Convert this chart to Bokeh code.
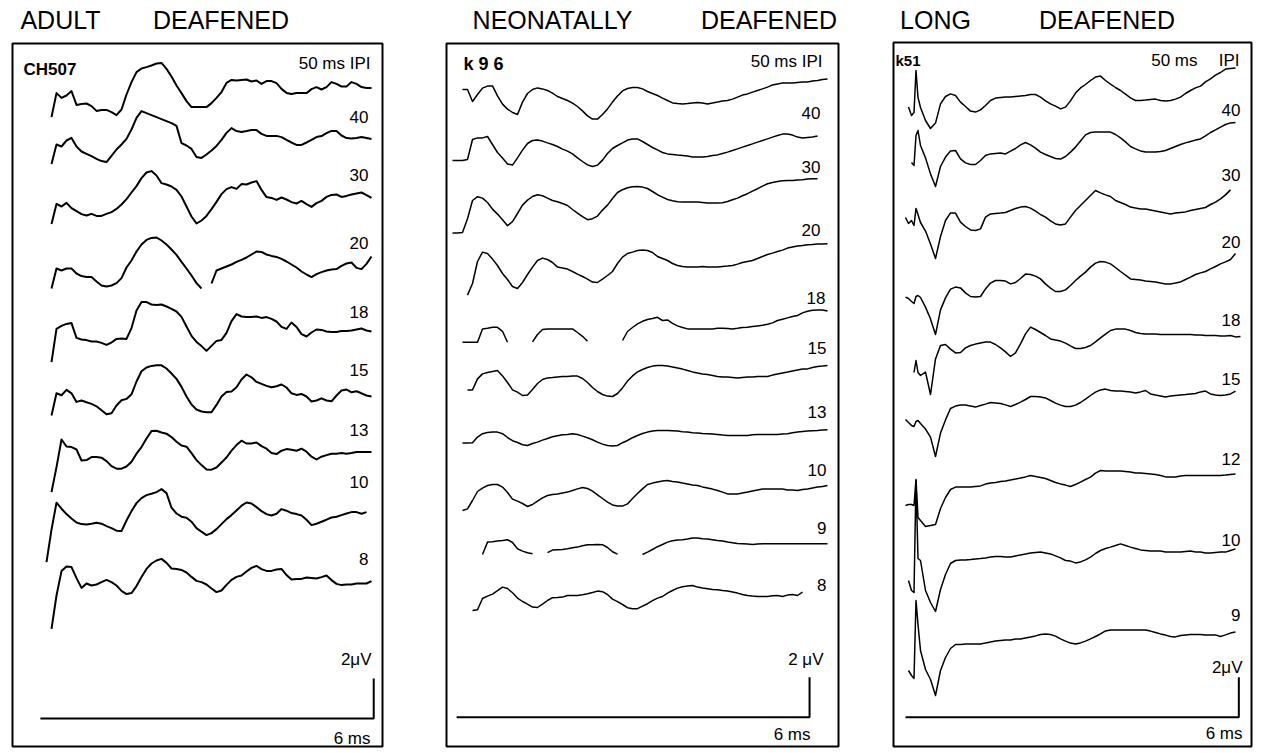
import numpy as np
from bokeh.plotting import figure
from bokeh.layouts import row
from bokeh.models import Range1d, Label
from bokeh.embed import file_html
from bokeh.resources import INLINE

nan = float("nan")

# ================= DATA (amplitudes in microvolts) =================
# ---- Adult deafened, CH507 (sampled every 0.09 ms) ----
A_ipi = ["50 ms IPI", "40", "30", "20", "18", "15", "13", "10", "8"]
A_50 = [nan, -1.33, -0.13, -0.37, -0.25, -0.03, -0.72, -0.67, -0.65, -0.78, -1.02, -0.97, -0.97, -1.08, -1.23, -0.95, -0.20, 0.42, 0.92, 1.10, 1.17, 1.25, 1.35, 1.38, 1.08, 0.70, 0.25, -0.13, -0.53, -0.83, -0.83, -0.83, -0.83, -0.63, -0.37, -0.08, 0.38, 0.53, 0.50, 0.53, 0.55, 0.45, 0.50, 0.33, 0.47, 0.47, 0.37, 0.08, -0.12, -0.17, -0.13, -0.13, -0.13, 0.07, 0.17, 0.05, 0.17, 0.42, 0.33, 0.20, 0.20, 0.42, 0.33, 0.17, 0.13, 0.13]
A_40 = [nan, -1.17, -0.20, -0.30, 0.00, 0.13, -0.30, -0.55, -0.67, -0.78, -0.92, -1.03, -1.08, -0.77, -0.45, -0.20, 0.08, 0.55, 1.13, 1.47, 1.37, 1.27, 1.17, 1.07, 0.97, 0.87, 0.73, -0.13, -0.25, -0.42, -0.83, -0.87, -0.70, -0.50, -0.27, 0.03, 0.38, 0.62, 0.47, 0.43, 0.47, 0.52, 0.52, 0.33, 0.23, 0.22, 0.23, 0.17, 0.03, -0.10, -0.22, -0.22, -0.10, 0.03, 0.17, 0.22, 0.37, 0.48, 0.47, 0.25, 0.12, 0.10, 0.13, 0.17, 0.12, 0.07]
A_30 = [nan, -1.17, -0.17, -0.30, -0.12, -0.38, -0.53, -0.68, -0.75, -0.67, -0.77, -0.77, -0.67, -0.58, -0.42, -0.20, 0.07, 0.40, 0.72, 1.12, 1.40, 1.47, 1.25, 0.87, 0.80, 0.70, 0.53, 0.20, -0.30, -0.80, -1.15, -1.00, -0.77, -0.43, -0.07, 0.32, 0.57, 0.67, 0.58, 0.82, 0.80, 0.90, 0.97, 0.53, 0.17, 0.13, 0.03, 0.15, 0.05, -0.08, -0.15, -0.02, -0.18, -0.32, -0.13, -0.02, 0.18, 0.28, 0.30, 0.18, 0.23, 0.30, 0.35, 0.40, 0.27, 0.13]
A_20 = [nan, -1.00, 0.00, -0.10, 0.00, 0.00, -0.25, -0.38, -0.43, -0.43, -0.65, -0.85, -0.90, -0.85, -0.73, -0.48, 0.05, 0.40, 0.85, 1.20, 1.43, 1.53, 1.55, 1.40, 1.20, 0.95, 0.68, 0.33, 0.00, -0.35, -0.73, -1.00, nan, -0.75, -0.10, 0.00, 0.10, 0.20, 0.33, 0.43, 0.55, 0.70, 0.85, 0.83, 0.70, 0.63, 0.58, 0.48, 0.35, 0.20, 0.05, -0.15, -0.30, -0.43, -0.28, -0.18, -0.10, -0.05, -0.03, 0.13, 0.25, 0.30, 0.03, -0.03, 0.23, 0.60]
A_18 = [nan, -1.58, 0.08, 0.23, 0.33, 0.37, -0.37, -0.45, -0.48, -0.55, -0.55, -0.62, -0.72, -0.60, -0.42, -0.40, -0.42, 0.12, 1.00, 1.43, 1.42, 1.30, 1.27, 1.30, 1.20, 1.08, 0.95, 0.68, 0.20, -0.27, -0.57, -0.78, -1.02, -0.77, -0.52, -0.47, -0.12, 0.47, 0.82, 0.70, 0.67, 0.68, 0.70, 0.63, 0.67, 0.58, 0.45, 0.18, 0.08, 0.40, 0.18, -0.18, -0.30, -0.10, 0.05, 0.03, -0.05, -0.08, -0.07, -0.03, -0.02, 0.00, 0.05, 0.10, 0.00, -0.05]
A_15 = [nan, -1.08, 0.03, -0.07, 0.20, 0.03, -0.40, -0.33, -0.42, -0.50, -0.62, -0.82, -1.02, -0.97, -0.58, -0.32, -0.25, -0.02, 0.62, 1.13, 1.32, 1.40, 1.43, 1.43, 1.27, 1.02, 0.75, 0.35, -0.13, -0.53, -0.78, -0.88, -0.92, -0.92, -0.55, -0.13, 0.10, 0.12, 0.33, 0.72, 0.97, 0.83, 0.60, 0.50, 0.40, 0.33, 0.38, 0.47, 0.32, 0.03, -0.05, 0.00, -0.13, -0.38, -0.33, -0.22, -0.33, -0.37, -0.08, 0.17, 0.22, 0.08, 0.13, 0.03, -0.08, -0.13]
A_13 = [nan, -2.00, -0.75, 0.63, 0.28, 0.25, 0.13, -0.42, -0.40, -0.25, -0.25, -0.28, -0.45, -0.70, -0.83, -0.83, -0.72, -0.48, -0.08, 0.25, 0.68, 1.05, 1.07, 0.98, 0.92, 0.75, 0.52, 0.33, 0.27, -0.05, -0.40, -0.65, -0.87, -0.88, -0.77, -0.52, -0.27, 0.07, 0.35, 0.57, 0.43, 0.43, 0.48, 0.30, 0.17, -0.05, -0.10, 0.07, 0.15, 0.12, 0.07, 0.17, 0.02, -0.23, -0.37, -0.23, -0.15, -0.08, -0.08, -0.05, -0.08, -0.05, 0.00, 0.00, 0.00, 0.00]
A_10 = [-2.25, -0.63, 0.72, 0.42, 0.15, -0.07, -0.27, -0.35, -0.37, -0.33, -0.28, -0.33, -0.45, -0.55, -0.68, -0.70, -0.17, 0.30, 0.70, 0.95, 1.10, 1.17, 1.25, 1.40, 1.20, 0.47, 0.18, 0.02, -0.03, -0.23, -0.55, -0.73, -0.90, -0.80, -0.60, -0.35, -0.10, 0.10, 0.33, 0.57, 0.73, 0.68, 0.50, 0.30, 0.15, 0.08, 0.17, 0.40, 0.32, 0.20, 0.15, 0.08, -0.13, -0.40, -0.33, -0.23, -0.13, -0.02, 0.02, 0.10, 0.18, 0.25, 0.25, 0.17, 0.25, nan]
A_8 = [nan, -2.42, -0.75, 0.47, 0.70, 0.67, 0.12, -0.37, -0.15, -0.25, -0.20, -0.08, 0.03, -0.08, -0.25, -0.52, -0.68, -0.63, -0.28, 0.17, 0.58, 0.85, 1.00, 1.08, 0.88, 0.60, 0.58, 0.53, 0.40, 0.18, -0.02, -0.08, -0.20, -0.40, -0.58, -0.50, -0.22, 0.03, 0.18, 0.25, 0.45, 0.63, 0.73, 0.57, 0.48, 0.48, 0.55, 0.58, 0.27, 0.05, 0.08, 0.08, 0.15, 0.13, 0.10, 0.17, 0.25, 0.02, -0.17, -0.23, -0.20, -0.20, -0.15, -0.15, -0.15, -0.03]

# ---- Neonatally deafened, k96 (sampled every 0.085 ms) ----
B_ipi = ["50 ms IPI", "40", "30", "20", "18", "15", "13", "10", "9", "8"]
B_50 = [nan, nan, 0.30, 0.30, -0.30, 0.05, 0.37, 0.47, 0.48, -0.02, -0.43, -0.68, -0.85, -0.95, -0.33, 0.10, 0.30, 0.38, 0.33, 0.25, 0.12, -0.05, -0.15, -0.25, -0.38, -0.55, -0.77, -1.02, -1.18, -1.18, -0.95, -0.67, -0.33, -0.03, 0.23, 0.35, 0.40, 0.40, 0.33, 0.20, 0.10, 0.00, -0.13, -0.25, -0.37, -0.40, -0.42, -0.40, -0.37, -0.35, -0.38, -0.42, -0.37, -0.33, -0.28, -0.25, -0.18, -0.08, 0.02, 0.08, 0.17, 0.25, 0.33, 0.42, 0.53, 0.58, 0.62, 0.62, 0.62, 0.65, 0.67, 0.67, 0.72, 0.75, 0.80, 0.83]
B_40 = [-0.50, -0.50, -0.50, -0.45, 0.55, 0.63, 0.63, 0.70, 0.30, -0.10, -0.38, -0.67, -0.73, -0.37, 0.02, 0.35, 0.50, 0.53, 0.47, 0.38, 0.30, 0.20, 0.07, -0.03, -0.17, -0.37, -0.55, -0.72, -0.80, -0.73, -0.48, -0.15, 0.10, 0.25, 0.38, 0.52, 0.58, 0.58, 0.45, 0.30, 0.15, 0.03, -0.10, -0.17, -0.20, -0.23, -0.25, -0.28, -0.32, -0.33, -0.32, -0.30, -0.25, -0.22, -0.15, -0.08, 0.00, 0.08, 0.17, 0.25, 0.33, 0.42, 0.50, 0.58, 0.67, 0.75, 0.82, 0.82, 0.77, 0.67, 0.63, 0.65, 0.67, 0.73, nan, nan]
B_30 = [-1.30, -1.30, -1.27, -0.58, 0.33, 0.52, 0.45, 0.23, -0.10, -0.35, -0.63, -0.93, -0.73, -0.32, 0.10, 0.35, 0.53, 0.62, 0.57, 0.45, 0.33, 0.27, 0.18, 0.08, -0.12, -0.30, -0.48, -0.63, -0.58, -0.45, -0.15, 0.10, 0.43, 0.73, 0.87, 0.97, 1.02, 1.03, 1.00, 0.93, 0.78, 0.62, 0.50, 0.38, 0.32, 0.27, 0.25, 0.25, 0.25, 0.25, 0.23, 0.20, 0.20, 0.20, 0.22, 0.28, 0.37, 0.45, 0.57, 0.67, 0.80, 0.92, 1.05, 1.17, 1.23, 1.28, 1.32, 1.33, 1.33, 1.35, 1.37, 1.40, 1.42, 1.42, nan, nan]
B_20 = [nan, nan, nan, -1.40, -0.82, 0.28, 0.75, 0.68, 0.40, 0.08, -0.32, -0.62, -0.97, -1.07, -0.77, -0.37, 0.00, 0.33, 0.45, 0.38, 0.23, 0.00, -0.05, -0.10, -0.22, -0.35, -0.47, -0.60, -0.75, -0.77, -0.60, -0.42, -0.22, 0.18, 0.50, 0.68, 0.75, 0.83, 0.85, 0.83, 0.73, 0.53, 0.43, 0.33, 0.18, 0.08, 0.03, 0.00, 0.00, 0.00, 0.03, 0.00, 0.00, 0.00, 0.03, 0.05, 0.08, 0.15, 0.23, 0.28, 0.33, 0.43, 0.53, 0.63, 0.70, 0.78, 0.85, 0.95, 1.00, 1.05, 1.08, 1.12, 1.13, 1.15, 1.15, 1.17]
B_18 = [nan, nan, -0.67, -0.67, -0.67, -0.67, 0.00, 0.03, 0.08, 0.08, -0.12, -0.67, nan, nan, nan, nan, -0.65, -0.28, -0.03, 0.00, 0.00, 0.00, 0.00, 0.00, 0.00, -0.18, -0.37, -0.62, nan, nan, nan, nan, nan, nan, -0.58, -0.13, 0.07, 0.25, 0.38, 0.47, 0.52, 0.58, 0.42, 0.45, 0.28, 0.15, 0.07, 0.00, 0.00, 0.00, 0.00, 0.00, 0.00, 0.03, 0.03, 0.02, 0.00, 0.03, 0.07, 0.08, 0.12, 0.15, 0.18, 0.23, 0.30, 0.42, 0.48, 0.55, 0.62, 0.67, 0.80, 0.88, 0.93, 0.95, 0.95, 0.90]
B_15 = [nan, nan, nan, -0.47, -0.47, 0.08, 0.33, 0.40, 0.45, 0.50, 0.23, -0.10, -0.47, -0.58, -0.75, -0.72, -0.45, -0.15, 0.05, 0.13, 0.15, 0.18, 0.20, 0.20, 0.22, 0.22, 0.10, -0.10, -0.35, -0.55, -0.70, -0.78, -0.80, -0.65, -0.37, -0.03, 0.23, 0.43, 0.55, 0.65, 0.72, 0.75, 0.75, 0.72, 0.68, 0.63, 0.57, 0.50, 0.43, 0.37, 0.33, 0.30, 0.25, 0.20, 0.18, 0.17, 0.15, 0.13, 0.15, 0.17, 0.18, 0.20, 0.20, 0.20, 0.27, 0.33, 0.38, 0.42, 0.48, 0.53, 0.57, 0.58, 0.65, 0.70, 0.72, 0.75]
B_13 = [nan, nan, -0.30, -0.30, -0.28, 0.00, 0.17, 0.23, 0.25, 0.25, 0.17, -0.02, -0.18, -0.27, -0.38, -0.42, -0.32, -0.25, -0.15, -0.07, 0.02, 0.07, 0.12, 0.13, 0.17, 0.13, 0.05, -0.03, -0.13, -0.25, -0.35, -0.42, -0.45, -0.42, -0.28, -0.17, -0.03, 0.08, 0.18, 0.25, 0.30, 0.33, 0.33, 0.33, 0.32, 0.30, 0.27, 0.25, 0.22, 0.20, 0.18, 0.17, 0.15, 0.13, 0.10, 0.08, 0.08, 0.08, 0.08, 0.08, 0.12, 0.13, 0.13, 0.13, 0.13, 0.13, 0.15, 0.17, 0.22, 0.25, 0.28, 0.30, 0.32, 0.33, 0.35, 0.37]
B_10 = [nan, nan, -0.75, -0.67, -0.25, 0.20, 0.37, 0.50, 0.55, 0.55, 0.42, 0.15, -0.18, -0.28, -0.40, -0.55, -0.45, -0.28, -0.12, 0.00, 0.05, 0.08, 0.13, 0.17, 0.25, 0.33, 0.40, 0.35, 0.22, 0.03, -0.15, -0.33, -0.47, -0.53, -0.53, -0.42, -0.15, 0.10, 0.33, 0.55, 0.62, 0.67, 0.72, 0.75, 0.70, 0.67, 0.62, 0.58, 0.53, 0.50, 0.43, 0.38, 0.32, 0.25, 0.17, 0.08, 0.08, 0.08, 0.13, 0.17, 0.23, 0.28, 0.32, 0.33, 0.33, 0.33, 0.32, 0.28, 0.27, 0.25, 0.30, 0.33, 0.38, 0.42, 0.45, 0.50]
B_9 = [nan, nan, nan, nan, nan, nan, -0.37, 0.25, 0.27, 0.30, 0.33, 0.37, 0.23, -0.08, -0.20, -0.28, -0.33, nan, nan, -0.28, -0.15, -0.13, -0.12, -0.08, -0.03, 0.00, 0.07, 0.12, 0.12, 0.13, 0.12, -0.02, -0.23, -0.35, nan, nan, nan, nan, -0.37, -0.25, -0.12, 0.02, 0.13, 0.25, 0.32, 0.35, 0.37, 0.40, 0.45, 0.45, 0.42, 0.40, 0.37, 0.33, 0.30, 0.25, 0.22, 0.18, 0.17, 0.15, 0.13, 0.15, 0.17, 0.17, 0.17, 0.17, 0.17, 0.17, 0.17, 0.17, 0.17, 0.17, 0.17, 0.17, 0.17, 0.17]
B_8 = [nan, nan, nan, nan, -0.67, -0.63, -0.07, 0.05, 0.15, 0.32, 0.50, 0.43, 0.22, -0.05, -0.22, -0.35, -0.50, -0.52, -0.35, -0.17, -0.03, -0.02, 0.00, 0.08, 0.08, 0.08, 0.12, 0.17, 0.23, 0.30, 0.27, 0.13, -0.10, -0.23, -0.37, -0.53, -0.58, -0.58, -0.45, -0.33, -0.18, -0.05, 0.03, 0.20, 0.33, 0.45, 0.52, 0.55, 0.58, 0.50, 0.45, 0.42, 0.38, 0.37, 0.33, 0.30, 0.25, 0.20, 0.13, 0.08, 0.05, 0.03, 0.03, 0.03, 0.07, 0.08, 0.03, 0.10, 0.13, 0.08, 0.25, nan, nan, nan, nan, nan]

# ---- Long deafened, k51 (first 7 samples at the times in C_t_early, then every 0.09 ms) ----
C_ipi = ["50 ms", "40", "30", "20", "18", "15", "12", "10", "9"]
C_t_early = [0.0, 0.054, 0.108, 0.153, 0.189, 0.225, 0.27]
C_50 = [nan, -0.33, -0.75, -0.60, 1.50, 0.15, -0.35, -1.00, -1.40, -1.13, -0.17, 0.20, 0.33, 0.25, -0.08, -0.30, -0.53, -0.58, -0.47, -0.25, 0.00, 0.12, 0.15, 0.17, 0.17, 0.20, 0.23, 0.25, 0.30, 0.30, 0.17, -0.02, -0.17, -0.28, -0.42, -0.33, -0.02, 0.37, 0.63, 0.80, 1.00, 1.17, 1.22, 1.00, 0.82, 0.65, 0.50, 0.32, 0.13, 0.00, 0.00, 0.02, 0.05, 0.07, 0.00, -0.03, 0.00, 0.07, 0.17, 0.35, 0.50, 0.63, 0.72, 0.93, 1.08, 1.27, 1.40, 1.57, 1.60, 1.63, nan]
C_40 = [nan, nan, -0.60, -0.75, 0.75, 1.00, 0.25, -0.37, -1.17, -1.80, -0.80, -0.33, -0.03, 0.00, -0.42, -0.62, -0.70, -0.70, -0.50, -0.25, -0.17, -0.15, -0.13, -0.17, -0.03, 0.10, 0.28, 0.40, 0.28, 0.12, -0.08, -0.20, -0.30, -0.40, -0.43, -0.30, -0.08, 0.17, 0.47, 0.78, 0.90, 0.92, 0.92, 0.92, 0.92, 0.80, 0.63, 0.43, 0.20, 0.08, -0.02, -0.07, -0.08, -0.08, -0.05, 0.00, 0.10, 0.20, 0.30, 0.38, 0.45, 0.52, 0.58, 0.73, 0.90, 1.03, 1.17, 1.30, 1.38, 1.40, nan]
C_30 = [-0.10, -0.40, -0.25, -0.50, 0.35, 0.05, -0.35, -0.78, -1.42, -2.15, -1.05, -0.25, 0.13, 0.12, -0.33, -0.55, -0.72, -0.75, -0.67, -0.08, 0.08, 0.10, 0.12, 0.15, 0.25, 0.35, 0.42, 0.45, 0.37, 0.22, 0.05, -0.08, -0.27, -0.42, -0.48, -0.42, -0.08, 0.25, 0.50, 0.75, 1.00, 1.25, 1.13, 1.03, 0.95, 0.75, 0.65, 0.55, 0.42, 0.37, 0.33, 0.33, 0.28, 0.23, 0.18, 0.12, 0.08, 0.12, 0.15, 0.18, 0.25, 0.30, 0.35, 0.40, 0.55, 0.67, 0.83, 1.03, 1.28, nan, nan]
C_20 = [-0.83, -0.90, -1.05, -1.15, -0.80, -0.75, -0.85, -1.33, -1.92, -2.70, -1.47, -0.87, -0.43, -0.33, -0.37, -0.62, -0.80, -0.83, -0.80, -0.42, -0.13, 0.00, 0.00, -0.03, -0.17, -0.10, 0.10, 0.32, 0.30, 0.22, 0.08, -0.17, -0.38, -0.55, -0.55, -0.47, -0.25, 0.00, 0.22, 0.42, 0.67, 0.87, 0.95, 0.92, 0.83, 0.65, 0.45, 0.27, 0.08, 0.05, 0.02, -0.02, -0.05, -0.08, -0.13, -0.17, -0.17, -0.13, -0.07, 0.05, 0.17, 0.30, 0.38, 0.45, 0.58, 0.70, 0.83, 0.93, 1.05, 1.35, nan]
C_18 = [nan, nan, nan, -1.60, -1.00, -1.60, -1.75, -1.58, -2.70, -0.92, -0.25, -0.20, -0.43, -0.62, -0.60, -0.37, -0.25, -0.18, -0.12, -0.08, -0.08, -0.20, -0.37, -0.57, -0.80, -0.62, -0.17, 0.33, 0.67, 0.55, 0.40, 0.25, 0.08, 0.02, -0.03, -0.13, -0.27, -0.40, -0.40, -0.35, -0.25, -0.07, 0.13, 0.32, 0.50, 0.57, 0.58, 0.57, 0.50, 0.40, 0.35, 0.33, 0.33, 0.32, 0.30, 0.30, 0.30, 0.30, 0.30, 0.30, 0.30, 0.28, 0.27, 0.25, 0.25, 0.25, 0.22, 0.22, 0.25, 0.18, 0.20]
C_15 = [-0.95, -1.10, -1.25, -1.30, -1.05, -1.00, -1.15, -1.43, -1.83, -2.80, -1.63, -0.97, -0.40, -0.28, -0.22, -0.22, -0.27, -0.33, -0.25, -0.18, -0.10, -0.12, -0.15, -0.22, -0.30, -0.20, -0.08, 0.05, 0.20, 0.20, 0.18, 0.13, 0.00, -0.13, -0.23, -0.30, -0.30, -0.23, -0.10, 0.07, 0.25, 0.42, 0.53, 0.57, 0.50, 0.48, 0.47, 0.45, 0.42, 0.38, 0.43, 0.50, 0.33, 0.27, 0.22, 0.17, 0.22, 0.25, 0.28, 0.30, 0.33, 0.35, 0.43, 0.47, 0.33, 0.27, 0.25, 0.27, 0.33, 0.47, nan]
C_12 = [-1.25, -1.20, -1.20, -1.25, 0.05, -1.85, -2.00, -2.30, -2.25, -2.20, -1.40, -0.85, -0.45, -0.33, -0.33, -0.33, -0.33, -0.30, -0.27, -0.18, -0.13, -0.10, -0.05, -0.02, 0.03, 0.07, 0.12, 0.18, 0.25, 0.20, 0.15, 0.10, 0.00, -0.10, -0.17, -0.23, -0.30, -0.20, -0.08, 0.05, 0.17, 0.37, 0.50, 0.48, 0.47, 0.47, 0.47, 0.45, 0.42, 0.38, 0.37, 0.35, 0.33, 0.30, 0.25, 0.18, 0.17, 0.17, 0.22, 0.25, 0.25, 0.25, 0.25, 0.25, 0.25, 0.25, 0.25, 0.27, 0.30, 0.33, nan]
C_10 = [nan, -1.25, -1.75, -1.85, 3.75, -0.15, -0.25, -1.75, -2.35, -2.80, -1.70, -0.95, -0.40, -0.25, -0.22, -0.22, -0.20, -0.17, -0.15, -0.12, -0.08, -0.05, -0.05, -0.07, -0.08, -0.02, 0.03, 0.07, 0.12, 0.15, 0.17, 0.13, 0.08, -0.02, -0.12, -0.25, -0.28, -0.37, -0.32, -0.22, -0.08, 0.10, 0.25, 0.35, 0.42, 0.50, 0.58, 0.50, 0.42, 0.35, 0.28, 0.25, 0.22, 0.22, 0.22, 0.18, 0.17, 0.17, 0.17, 0.20, 0.22, 0.18, 0.17, 0.13, 0.12, 0.15, 0.17, 0.17, 0.25, 0.33, nan]
C_9 = [nan, -1.75, -2.00, -2.15, 1.75, 0.55, -0.75, -1.70, -2.20, -3.00, -1.75, -1.10, -0.65, -0.45, -0.45, -0.43, -0.42, -0.42, -0.42, -0.38, -0.33, -0.28, -0.25, -0.23, -0.22, -0.18, -0.17, -0.12, -0.08, -0.02, 0.05, 0.08, 0.05, -0.03, -0.17, -0.28, -0.38, -0.42, -0.37, -0.28, -0.17, -0.05, 0.08, 0.23, 0.28, 0.28, 0.28, 0.28, 0.28, 0.28, 0.28, 0.27, 0.22, 0.15, 0.08, 0.02, -0.05, -0.07, 0.00, 0.03, 0.05, 0.05, 0.05, 0.02, 0.02, 0.03, -0.05, 0.03, 0.12, 0.18, nan]

# ================= LAYOUT / STYLE =================
FONT = "Liberation Sans"
H = 750          # figure height (page px)
UV_PX = 20.0     # pixels per microvolt
SAMPLE_PX = 5.0  # pixels per regular sample step


def sample_times(n, dt, early=None):
    if not early:
        return np.arange(n) * dt
    k = len(early)
    first_regular = round(early[-1] / dt) + 1
    return np.concatenate([np.array(early), dt * np.arange(first_regular, first_regular + n - k)])


def build_panel(left, width, x0, dt, y0, traces, offsets, line_w, frame, bar_t0, bar_y,
                labels, label_pos, label_size, extra_texts, early=None):
    ms_px = SAMPLE_PX / dt
    X = lambda px: (px - x0) / ms_px
    Y = lambda py: (y0 - py) / UV_PX
    p = figure(width=width, height=H,
               x_range=Range1d(X(left), X(left + width)),
               y_range=Range1d(Y(H), Y(0)),
               output_backend="svg", toolbar_location=None, min_border=0,
               x_axis_location=None, y_axis_location=None)
    p.grid.visible = False
    p.outline_line_color = None
    p.background_fill_color = "white"
    p.border_fill_color = "white"
    fl, ft, fr, fb = frame
    p.quad(left=[X(fl)], right=[X(fr)], top=[Y(ft)], bottom=[Y(fb)],
           fill_color=None, line_color="black", line_width=2)
    for vals, off in zip(traces, offsets):
        v = np.array(vals, dtype=float)
        t = sample_times(len(v), dt, early)
        p.line(t, v + off, line_color="black", line_width=line_w, line_join="round")
    yb = Y(bar_y)
    p.line([bar_t0, bar_t0 + 6, bar_t0 + 6], [yb, yb, yb + 2], line_color="black", line_width=2)
    for txt, (lx, ly) in zip(labels, label_pos):
        p.add_layout(Label(x=X(lx), y=Y(ly), text=txt, text_align="right", text_baseline="middle",
                           text_font=FONT, text_font_size=label_size, text_color="black"))
    for txt, lx, ly, align, size, style in extra_texts:
        p.add_layout(Label(x=X(lx), y=Y(ly), text=txt, text_align=align, text_baseline="middle",
                           text_font=FONT, text_font_size=size, text_font_style=style, text_color="black"))
    return p


pA = build_panel(
    left=0, width=425, x0=46, dt=0.09, y0=90,
    traces=[A_50, A_40, A_30, A_20, A_18, A_15, A_13, A_10, A_8],
    offsets=[0, -2.5, -5.5, -8.9, -12.0, -15.17, -18.08, -21.33, -24.5],
    line_w=2.0, frame=(12, 43, 382, 746), bar_t0=-0.11, bar_y=718,
    labels=A_ipi,
    label_pos=[(370, 62.5), (368, 116), (368, 174), (368, 242.5), (368, 311),
               (368, 369), (368, 429), (368, 481), (368, 558)],
    label_size="17px",
    extra_texts=[("CH507", 23, 69, "left", "17px", "bold"),
                 ("2μV", 371, 659, "right", "17px", "normal"),
                 ("6 ms", 370, 737.5, "right", "17px", "normal"),
                 ("ADULT", 60, 19, "center", "25px", "normal"),
                 ("DEAFENED", 220.5, 19, "center", "25px", "normal")])

pB = build_panel(
    left=425, width=443, x0=452, dt=0.085, y0=95,
    traces=[B_50, B_40, B_30, B_20, B_18, B_15, B_13, B_10, B_9, B_8],
    offsets=[0, -2.75, -5.58, -8.58, -11.67, -14.25, -17.08, -20.0, -22.58, -25.08],
    line_w=1.5, frame=(446, 43, 838, 746), bar_t0=0.07, bar_y=716.7,
    labels=B_ipi,
    label_pos=[(822, 61), (820, 112.5), (820, 166), (820, 229), (825, 297.5),
               (826, 347.5), (826, 411), (826, 469), (826, 527.5), (826, 584)],
    label_size="17px",
    extra_texts=[("k 9 6", 463, 63.5, "left", "18px", "bold"),
                 ("2 μV", 823, 659, "right", "17px", "normal"),
                 ("6 ms", 810, 734, "right", "17px", "normal"),
                 ("NEONATALLY", 552, 19, "center", "25px", "normal"),
                 ("DEAFENED", 768.5, 19, "center", "25px", "normal")])

pC = build_panel(
    left=868, width=388, x0=905, dt=0.09, y0=100,
    traces=[C_50, C_40, C_30, C_20, C_18, C_15, C_12, C_10, C_9],
    offsets=[0, -2.5, -5.75, -9.0, -12.0, -15.0, -19.0, -22.75, -26.75],
    line_w=1.5, frame=(893, 42, 1251, 746), bar_t0=0.0, bar_y=716.7,
    labels=C_ipi,
    label_pos=[(1197, 60), (1240, 109), (1240, 174), (1240, 241.5), (1240, 319),
               (1240, 378), (1240, 458), (1240, 539), (1240, 614)],
    label_size="17px",
    extra_texts=[("IPI", 1239, 60, "right", "17px", "normal"),
                 ("k51", 895, 60, "left", "15px", "bold"),
                 ("2μV", 1242, 666.5, "right", "17px", "normal"),
                 ("6 ms", 1242, 733, "right", "17px", "normal"),
                 ("LONG", 935, 19, "center", "25px", "normal"),
                 ("DEAFENED", 1106.5, 19, "center", "25px", "normal")],
    early=C_t_early)

layout = row(pA, pB, pC, spacing=0)
open("out.html", "w").write(file_html(layout, INLINE))
